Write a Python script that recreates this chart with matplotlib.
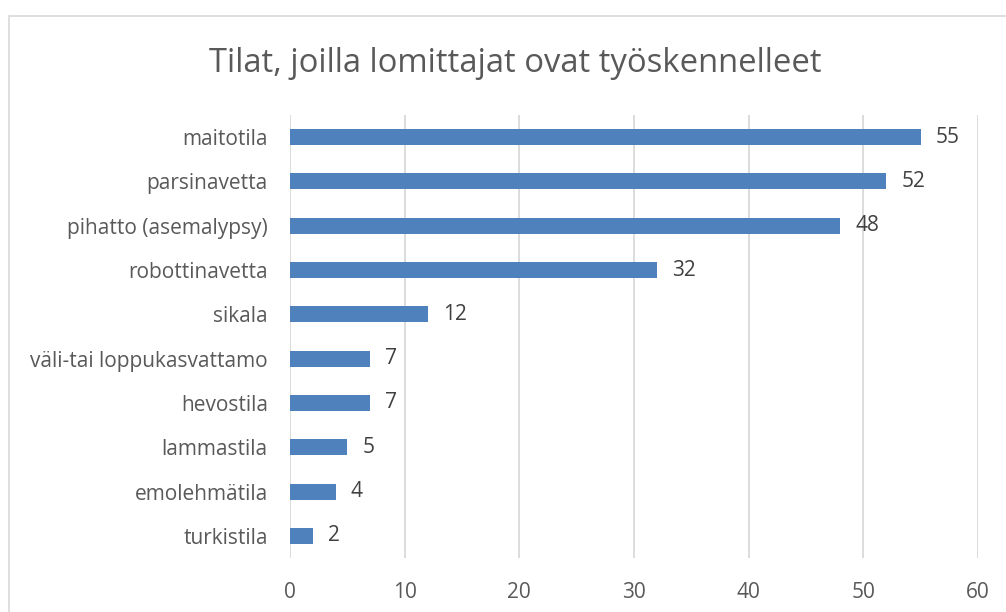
import matplotlib
matplotlib.use("Agg")
import matplotlib.pyplot as plt
from matplotlib.patches import Rectangle

categories = ["maitotila", "parsinavetta", "pihatto (asemalypsy)", "robottinavetta",
              "sikala", "väli-tai loppukasvattamo", "hevostila", "lammastila",
              "emolehmätila", "turkistila"]
values = [55, 52, 48, 32, 12, 7, 7, 5, 4, 2]
xticks = [0, 10, 20, 30, 40, 50, 60]
title = "Tilat, joilla lomittajat ovat työskennelleet"

FONT = "Open Sans"
TXT = "#595959"

fig = plt.figure(figsize=(10.06, 6.12), dpi=100)
fig.patches.append(Rectangle((9/1006, -0.1), 1.2, 1 - 16/612 + 0.1, transform=fig.transFigure,
                             fill=False, edgecolor="#D9D9D9", linewidth=1.2))
ax = fig.add_axes([290/1006, 1 - 558/612, (978 - 290)/1006, (558 - 115)/612])

ypos = list(range(len(categories)))
ax.barh(ypos, values, height=0.36, color="#4F81BD", zorder=3)
ax.set_ylim(len(categories) - 0.5, -0.5)
ax.set_xlim(0, 60)
ax.set_xticks(xticks)
ax.set_xticklabels([str(t) for t in xticks], fontsize=15, color=TXT, family=FONT)
ax.set_yticks(ypos)
ax.set_yticklabels(categories, fontsize=15, color=TXT, family=FONT)
ax.tick_params(length=0)
ax.tick_params(axis="x", pad=17)
ax.tick_params(axis="y", pad=16)
ax.grid(axis="x", color="#D9D9D9", linewidth=1.3, zorder=0)
for s in ax.spines.values():
    s.set_visible(False)
for y, v in zip(ypos, values):
    ax.annotate(str(v), (v, y), xytext=(15, 0), textcoords="offset pixels",
                va="center", ha="left", fontsize=15, color="#404040", family=FONT)

fig.text(515/1006, 1 - 63/612, title, ha="center", va="center", fontsize=23.6, color=TXT, family=FONT)
fig.savefig("out.png", dpi=100)
